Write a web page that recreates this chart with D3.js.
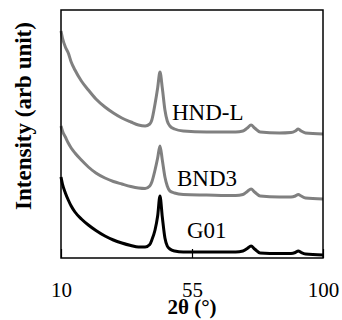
<!DOCTYPE html>
<html>
<head>
    <meta charset="utf-8" />
    <script src="https://d3js.org/d3.v7.min.js"></script>
    <style>
        body { margin: 0; background: #fff; }
        svg text { font-family: "Liberation Serif", "Times New Roman", Times, "DejaVu Serif", serif; }
    </style>
</head>
<body>
<svg id="xrd" width="342" height="320"></svg>
<script>
    // 2theta sample positions (degrees)
    const angles = [10, 10.5, 11.5, 12.5, 13.5, 14.8, 17, 19.4, 22, 25.1, 28, 30.9, 34, 36.6, 38.9,
        40.5, 41.2, 42.3, 43.2, 44, 44.8, 45.7, 46.5, 47.4, 49, 52, 60, 70, 72.5, 74, 75.3,
        76.5, 78.4, 85, 89, 90.5, 91.5, 92.5, 94, 100];

    // intensities, arbitrary units (already stacked with offset)
    const hndL = [227, 220, 211, 205, 196, 188, 177, 168, 159, 151, 145, 140, 136, 133, 132,
        134, 138, 154, 170, 186, 170, 148, 137, 132, 129, 127, 126, 126, 127, 130, 133,
        130, 126, 125, 125.5, 127, 129, 127, 125, 124];
    const bnd3 = [132, 127, 121, 115, 110, 105, 98, 91, 85, 80, 76.5, 74, 71.5, 70, 69.5,
        72, 76, 88, 100, 112, 98, 81, 72, 67, 65, 63.5, 63, 62.5, 63.5, 66.5, 69,
        66, 62, 61, 61, 62, 63.5, 62, 60, 59];
    const g01 = [81, 74, 65, 58, 52, 46, 39, 33, 27.5, 22, 18, 15, 12.5, 11, 11,
        13.5, 18, 28, 42, 62, 41, 20, 12, 9, 7, 6, 6, 6, 7, 9.5, 12,
        9, 5, 4.5, 4.5, 5.5, 7, 5.5, 4, 3];

    const seriesNames = ["HND-L", "BND3", "G01"];
    const seriesColors = ["#808080", "#808080", "#000000"];
    const labelPos = [[172, 120], [177, 186], [187, 238]];
    const xTicks = [10, 55, 100];

    const margin = { top: 10, right: 19, bottom: 62, left: 61 };
    const width = 342, height = 320;
    const innerWidth = width - margin.left - margin.right;
    const innerHeight = height - margin.top - margin.bottom;

    const svg = d3.select("#xrd");

    const xScale = d3.scaleLinear().domain([10, 100]).range([0, innerWidth]);
    const yScale = d3.scaleLinear().domain([0, 248]).range([innerHeight, 0]);

    const g = svg.append("g").attr("transform", `translate(${margin.left},${margin.top})`);

    // lines
    const line = d3.line()
        .x((d, i) => xScale(angles[i]))
        .y(d => yScale(d))
        .curve(d3.curveMonotoneX);

    [hndL, bnd3, g01].forEach((vals, k) => {
        g.append("path")
            .datum(vals)
            .attr("fill", "none")
            .attr("stroke", seriesColors[k])
            .attr("stroke-width", 3)
            .attr("stroke-linejoin", "round")
            .attr("d", line);
    });

    // frame
    g.append("rect")
        .attr("width", innerWidth)
        .attr("height", innerHeight)
        .attr("fill", "none")
        .attr("stroke", "#000")
        .attr("stroke-width", 1.5);

    // x axis with inner ticks
    const xAxis = d3.axisBottom(xScale)
        .tickValues(xTicks)
        .tickSizeInner(-9)
        .tickSizeOuter(0)
        .tickPadding(24);
    const ax = g.append("g")
        .attr("transform", `translate(0,${innerHeight})`)
        .call(xAxis);
    ax.select(".domain").remove();
    ax.selectAll("line").attr("stroke", "#000").attr("stroke-width", 1.2);
    ax.selectAll("text")
        .attr("font-size", 21)
        .attr("fill", "#000");

    // series labels
    seriesNames.forEach((name, k) => {
        svg.append("text")
            .attr("x", labelPos[k][0])
            .attr("y", labelPos[k][1])
            .attr("font-size", 23)
            .text(name);
    });

    // axis titles
    svg.append("text")
        .attr("x", margin.left + innerWidth / 2)
        .attr("y", 314)
        .attr("text-anchor", "middle")
        .attr("font-size", 21)
        .attr("font-weight", "bold")
        .text("2θ (°)");

    svg.append("text")
        .attr("transform", "rotate(-90)")
        .attr("x", -116)
        .attr("y", 31)
        .attr("text-anchor", "middle")
        .attr("font-size", 23)
        .attr("font-weight", "bold")
        .text("Intensity (arb unit)");
</script>
</body>
</html>
